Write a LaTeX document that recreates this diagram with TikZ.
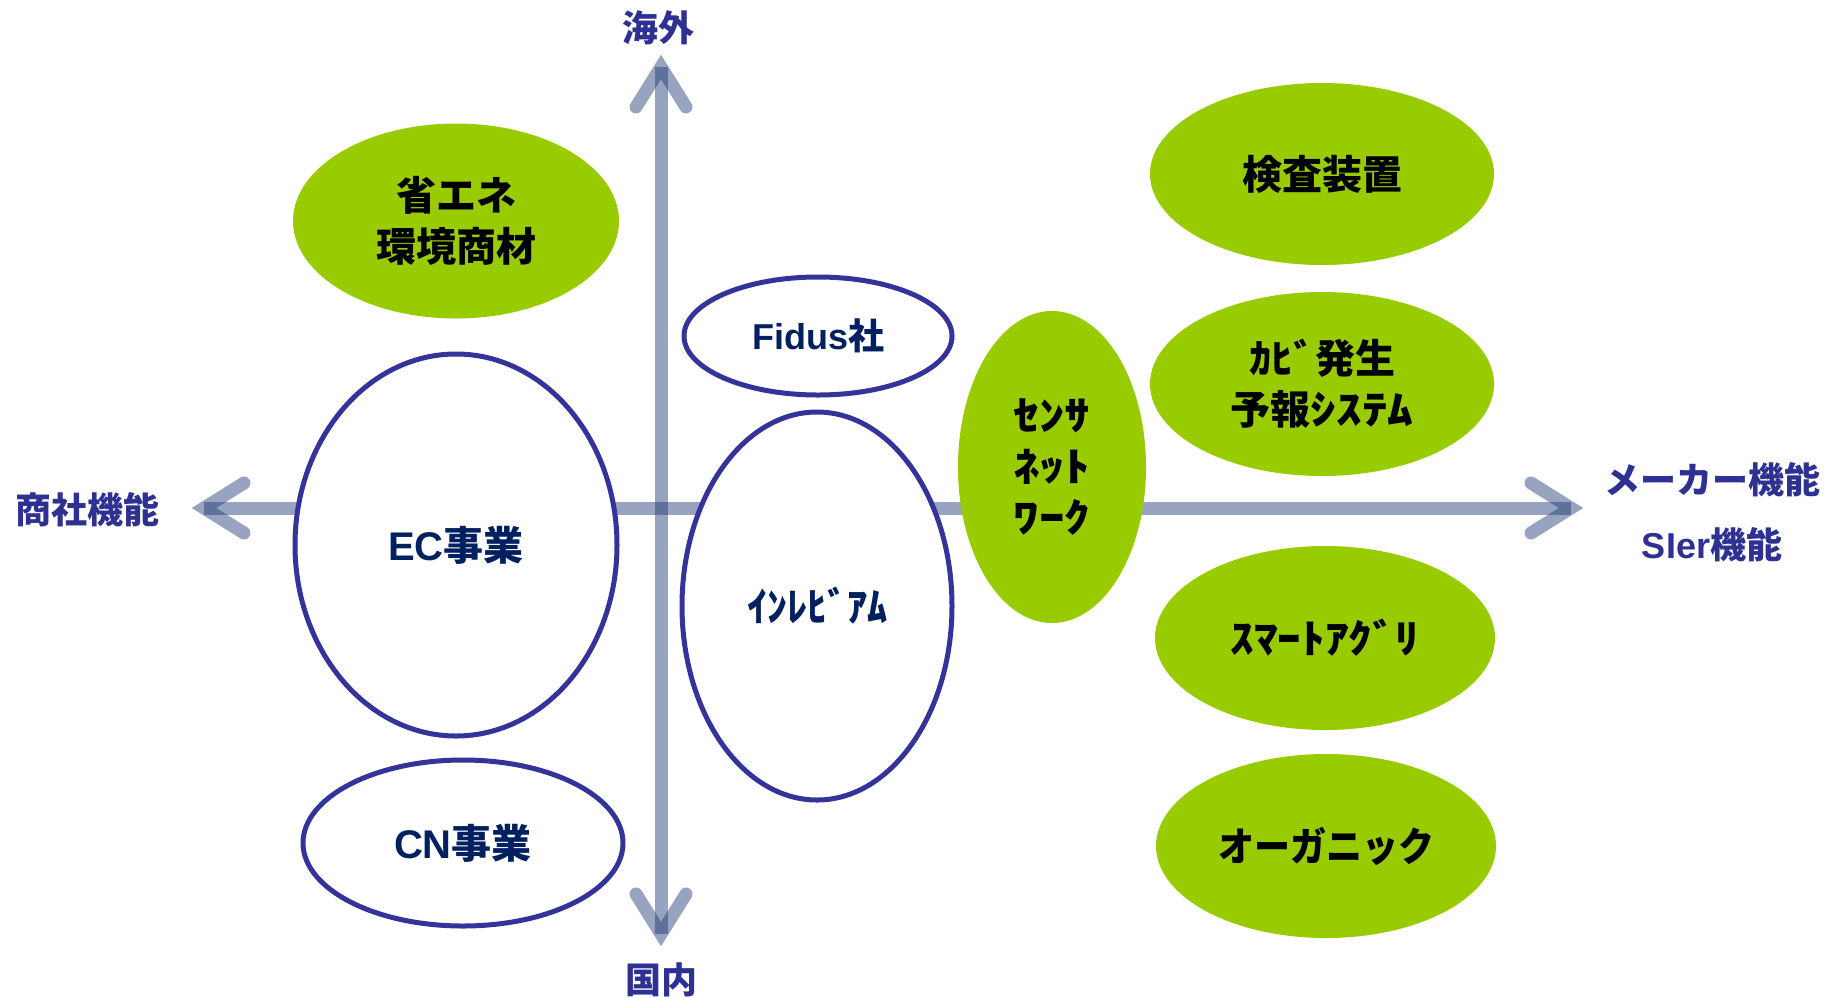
\documentclass[tikz,border=0pt]{standalone}
\usepackage{fontspec}
\usetikzlibrary{shapes.geometric}
\newfontfamily\jpf{Noto Sans CJK JP}
\newfontfamily\jpp{Noto Sans CJK JP}[FakeStretch=0.9]
\newfontfamily\jpha{Noto Sans CJK JP}[FakeStretch=1.1]
\newfontfamily\jphb{Noto Sans CJK JP}[FakeStretch=1.18]
\newfontfamily\jphc{Noto Sans CJK JP}[FakeStretch=1.28]
\newfontfamily\latf{Liberation Sans}
\definecolor{axisc}{RGB}{25,52,114}
\definecolor{lblc}{RGB}{46,49,146}
\definecolor{navytxt}{RGB}{0,32,96}
\definecolor{ringc}{RGB}{51,51,153}
\definecolor{greenc}{RGB}{153,204,0}
\begin{document}
\begin{tikzpicture}[x=0.5pt,y=-0.5pt,
  axisline/.style={draw=axisc, draw opacity=0.45, line width=6.5pt},
  chev/.style={draw=axisc, draw opacity=0.45, line width=6.5pt, line cap=round, line join=miter},
  greenell/.style={ellipse, fill=greenc, inner sep=0pt, text=black, align=center,
    font=\jpf\bfseries\fontsize{20}{25.5}\selectfont},
  whiteell/.style={ellipse, fill=white, draw=ringc, line width=2.5pt, inner sep=0pt, text=navytxt, align=center,
    font=\jpf\bfseries\fontsize{20}{25.5}\selectfont},
  lbl/.style={text=lblc, inner sep=0pt, font=\jpf\bfseries\fontsize{18}{22}\selectfont}
]
\useasboundingbox (0,0) rectangle (1826,997);
% axes
\coordinate (VL) at (204,508);
\coordinate (VR) at (1571,508);
\coordinate (VT) at (661,67);
\coordinate (VB) at (661,934);
\coordinate (L1) at (244,483);
\coordinate (L2) at (244,533);
\coordinate (R1) at (1531,483);
\coordinate (R2) at (1531,533);
\coordinate (T1) at (636,107);
\coordinate (T2) at (686,107);
\coordinate (B1) at (636,894);
\coordinate (B2) at (686,894);
\draw[axisline] (VL) -- (VR);
\draw[axisline] (VT) -- (VB);
\draw[chev] (L1) -- (VL) -- (L2);
\draw[chev] (R1) -- (VR) -- (R2);
\draw[chev] (T1) -- (VT) -- (T2);
\draw[chev] (B1) -- (VB) -- (B2);
% axis labels
\node[lbl] (kaigai) at (658,28) {海外};
\node[lbl] (kokunai) at (661,980) {国内};
\node[lbl] (shosha) at (88,510) {商社機能};
\node[lbl] (maker) at (1712,480) {メーカー機能};
\node[lbl] (sier) at (1712,545) {{\latf\bfseries SIer}機能};
% ellipses
\node[greenell, minimum width=163pt, minimum height=97.5pt] (shoene) at (456,221) {省エネ\\環境商材};
\node[whiteell, minimum width=161pt, minimum height=191pt] (ec) at (456,545) {{\latf\bfseries EC}事業};
\node[whiteell, minimum width=160pt, minimum height=83pt] (cn) at (463,843) {{\latf\bfseries CN}事業};
\node[whiteell, minimum width=134pt, minimum height=59pt, font=\jpf\bfseries\fontsize{18}{22}\selectfont] (fidus) at (818,336) {{\latf\bfseries Fidus}社};
\node[whiteell, minimum width=135pt, minimum height=194pt] (inre) at (817,606) {ｲﾝﾚﾋﾞｱﾑ};
\node[greenell, minimum width=94pt, minimum height=156pt, font=\jphc\bfseries\fontsize{20}{25.5}\selectfont] (sensor) at (1052,467) {ｾﾝｻ\\ﾈｯﾄ\\ﾜｰｸ};
\node[greenell, minimum width=172pt, minimum height=91pt] (kensa) at (1322,174) {検査装置};
\node[greenell, minimum width=172pt, minimum height=92pt] (kabi) at (1322,384) {{\jpha ｶﾋﾞ}発生\\予報{\jphc ｼｽﾃﾑ}};
\node[greenell, minimum width=170pt, minimum height=92pt, font=\jphb\bfseries\fontsize{20}{25.5}\selectfont] (smart) at (1325,638) {ｽﾏｰﾄｱｸﾞﾘ};
\node[greenell, minimum width=170pt, minimum height=92pt, font=\jpp\bfseries\fontsize{20}{25.5}\selectfont] (organic) at (1326,846) {オーガニック};
\end{tikzpicture}
\end{document}
